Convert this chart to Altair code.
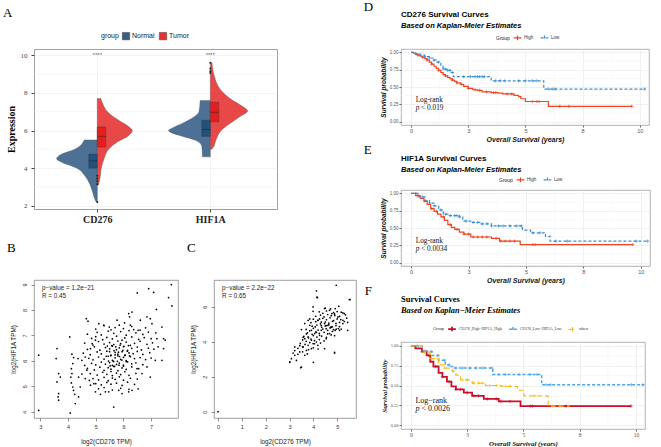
import altair as alt
import pandas as pd

SANS = "Liberation Sans"
SERIF = "Liberation Serif"

# ================= Panel A : split violins =================
gene_names = ["CD276", "HIF1A"]
gene_pos = [1, 2]
groups_A = ["Normal", "Tumor"]
colors_A = ["#1F4E79", "#E41A1C"]

cd276_normal_y = [2.2, 2.4, 2.8, 3.2, 3.6, 4.0, 4.3, 4.5, 4.7, 5.0, 5.5]
cd276_normal_w = [0.01, 0.025, 0.045, 0.07, 0.11, 0.18, 0.31, 0.36, 0.33, 0.2, 0.115]
cd276_tumor_y = [3.1, 3.5, 4.0, 4.5, 5.0, 5.4, 5.7, 6.0, 6.2, 6.5, 7.0, 7.4, 7.7]
cd276_tumor_w = [0.01, 0.025, 0.035, 0.06, 0.1, 0.18, 0.27, 0.31, 0.28, 0.2, 0.09, 0.05, 0.03]
hif1a_normal_y = [4.6, 5.15, 5.45, 5.7, 5.9, 6.0, 6.15, 6.4, 6.7, 7.0, 7.6]
hif1a_normal_w = [0.07, 0.075, 0.12, 0.25, 0.35, 0.37, 0.33, 0.24, 0.15, 0.1, 0.09]
hif1a_tumor_y = [5.0, 5.1, 5.5, 6.03, 6.4, 6.77, 7.04, 7.3, 7.63, 8.17, 8.9, 9.6]
hif1a_tumor_w = [0.01, 0.025, 0.05, 0.1, 0.18, 0.27, 0.33, 0.28, 0.19, 0.09, 0.035, 0.015]

box_gene = ["CD276", "CD276", "HIF1A", "HIF1A"]
box_group = ["Normal", "Tumor", "Normal", "Tumor"]
box_q1 = [4.0, 5.12, 5.69, 6.46]
box_med = [4.39, 5.69, 6.05, 6.97]
box_q3 = [4.75, 6.19, 6.54, 7.5]
BOX_W = 0.075

out_gene = ["CD276", "CD276", "CD276", "CD276", "CD276", "HIF1A", "HIF1A", "HIF1A", "HIF1A"]
out_val = [2.2, 3.15, 3.3, 3.45, 3.6, 9.05, 9.15, 9.3, 9.6]

star_labels = ["****", "****"]
star_y = [10.0, 10.0]
minor_A = [3, 5, 7, 9]

violins = [
    ("CD276", "Normal", cd276_normal_y, cd276_normal_w),
    ("CD276", "Tumor", cd276_tumor_y, cd276_tumor_w),
    ("HIF1A", "Normal", hif1a_normal_y, hif1a_normal_w),
    ("HIF1A", "Tumor", hif1a_tumor_y, hif1a_tumor_w),
]
vrows = []
for gene, grp, ys, ws in violins:
    p = gene_pos[gene_names.index(gene)]
    for y, w in zip(ys, ws):
        lo, hi = (p - w, p) if grp == "Normal" else (p, p + w)
        vrows.append(dict(vid=gene + grp, group=grp, y=y, xlo=lo, xhi=hi))
viol_df = pd.DataFrame(vrows)

brows = []
for g, grp, a, m, b in zip(box_gene, box_group, box_q1, box_med, box_q3):
    p = gene_pos[gene_names.index(g)]
    x1, x2 = (p - BOX_W, p) if grp == "Normal" else (p, p + BOX_W)
    brows.append(dict(group=grp, x1=x1, x2=x2, q1=a, med=m, q3=b))
box_df = pd.DataFrame(brows)
out_df = pd.DataFrame(dict(x=[gene_pos[gene_names.index(g)] for g in out_gene], y=out_val))
star_df = pd.DataFrame(dict(x=gene_pos, y=star_y, t=star_labels))

xsA = alt.Scale(domain=[0.44, 2.59], nice=False, zero=False)
ysA = alt.Scale(domain=[1.83, 10.33], nice=False, zero=False)
fillA = alt.Scale(domain=groups_A, range=colors_A)

axisAx = alt.Axis(values=[1, 2], labelExpr="datum.value == 1 ? 'CD276' : 'HIF1A'", title=None,
                  labelFont=SERIF, labelFontWeight="bold", labelFontSize=10, labelColor="#222",
                  grid=True, gridColor="#ebebeb", gridWidth=0.6, domain=False, tickColor="#444",
                  tickSize=3, labelPadding=2)
axisAy = alt.Axis(values=[2, 4, 6, 8, 10], title="Expression", titleFont=SERIF, titleFontWeight="bold",
                  titleFontSize=10, titleColor="black", labelFont=SERIF, labelFontSize=7,
                  labelColor="#444", grid=True, gridColor="#ebebeb", gridWidth=0.6, domain=False,
                  tickColor="#444", tickSize=3, labelPadding=4, titlePadding=4)

a_minor = alt.Chart(pd.DataFrame(dict(y=minor_A))).mark_rule(color="#f3f3f3", strokeWidth=0.5).encode(
    y=alt.Y("y:Q", scale=ysA, axis=axisAy))
a_viol = alt.Chart(viol_df).mark_area(orient="horizontal", interpolate="monotone", stroke="#555",
                                       strokeWidth=0.4, fillOpacity=0.8).encode(
    y=alt.Y("y:Q", scale=ysA, axis=axisAy),
    x=alt.X("xlo:Q", scale=xsA, axis=axisAx),
    x2="xhi:Q",
    fill=alt.Fill("group:N", scale=fillA, legend=alt.Legend(
        title="group", orient="none", legendX=67, legendY=-17, direction="horizontal",
        titleOrient="left", titleFont=SANS, titleFontSize=7, titleFontWeight="normal",
        titleColor="#222", labelFont=SANS, labelFontSize=7, labelColor="#222",
        symbolType="square", symbolSize=55, symbolOpacity=1, symbolStrokeColor="#333",
        symbolStrokeWidth=0.5, columnPadding=3, titlePadding=3, labelOffset=2)),
    detail="vid:N",
)
a_box = alt.Chart(box_df).mark_rect(stroke="#333", strokeWidth=0.4, opacity=0.9).encode(
    x=alt.X("x1:Q", scale=xsA, axis=axisAx), x2="x2:Q",
    y=alt.Y("q1:Q", scale=ysA, axis=axisAy), y2="q3:Q",
    fill=alt.Fill("group:N", scale=fillA))
a_med = alt.Chart(box_df).mark_rule(color="#222", strokeWidth=0.5).encode(
    x=alt.X("x1:Q", scale=xsA, axis=axisAx), x2="x2:Q", y=alt.Y("med:Q", scale=ysA, axis=axisAy))
a_out = alt.Chart(out_df).mark_circle(size=4, color="#222", opacity=1).encode(
    x=alt.X("x:Q", scale=xsA, axis=axisAx), y=alt.Y("y:Q", scale=ysA, axis=axisAy))
a_star = alt.Chart(star_df).mark_text(font=SANS, fontSize=6, color="#666", baseline="middle").encode(
    x=alt.X("x:Q", scale=xsA, axis=axisAx), y=alt.Y("y:Q", scale=ysA, axis=axisAy), text="t:N")

panelA = alt.layer(a_minor, a_viol, a_box, a_med, a_out, a_star).properties(
    width=243, height=160,
    view=alt.ViewBackground(stroke="#a0a0a0", strokeWidth=1),
    title=alt.Title("A", anchor="start", frame="bounds", font=SERIF, fontSize=13,
                    fontWeight="normal", color="black", offset=12, dx=-3))

# ================= Panels B, C : scatter =================
B_sparse_x = [2.94, 2.94, 4.08, 3.6, 3.57, 3.66, 3.72, 3.6, 3.66, 3.64, 3.66, 4.06, 4.14, 4.2, 4.17,
              4.12, 4.14, 4.1, 4.12, 4.17, 4.2, 4.24, 4.26, 4.38, 4.44, 4.38, 4.36, 4.5, 4.62, 4.66,
              4.72, 4.99, 4.87, 4.81, 4.6, 4.68, 4.5, 4.62, 4.77, 4.81, 4.93, 4.99, 5.17, 5.35, 5.47,
              5.65, 5.83, 5.95, 6.19, 6.31, 6.53]
B_sparse_y = [6.22, 4.05, 3.95, 6.48, 6.09, 5.5, 5.36, 5.17, 4.71, 4.58, 4.45, 6.94, 6.26, 6.13, 5.89,
              5.69, 5.5, 5.36, 5.13, 4.97, 4.84, 4.68, 4.32, 4.58, 4.97, 5.36, 6.09, 6.02, 6.15, 7.66,
              7.56, 6.81, 6.68, 6.48, 5.82, 5.63, 5.48, 5.3, 5.23, 5.04, 5.1, 4.78, 4.68, 4.78, 4.78,
              4.18, 4.84, 4.71, 4.78, 4.84, 4.9]
B_upper_x = [5.11, 5.29, 5.49, 5.77, 5.85, 6.04, 6.19, 6.25, 6.37, 6.53, 6.61, 6.85, 6.97, 7.03, 7.17,
             7.39, 7.21, 7.45, 7.51, 7.45, 7.25, 7.15, 7.39, 6.85, 6.97, 6.49, 6.67]
B_upper_y = [7.46, 7.4, 7.33, 7.6, 7.4, 7.49, 7.86, 7.4, 7.23, 7.2, 7.6, 7.73, 7.66, 7.46, 7.1,
             7.33, 6.87, 6.87, 6.81, 6.48, 6.55, 6.02, 6.02, 5.76, 5.36, 5.69, 5.5]
B_top_x = [7.73, 6.91, 7.09, 6.5, 7.63, 7.75, 7.19, 6.31, 6.22]
B_top_y = [9.0, 8.84, 8.69, 8.67, 8.49, 8.16, 8.02, 7.92, 7.73]
B_core_x = [
    5.0, 5.3, 5.55, 5.7, 6.0, 6.3, 6.6, 6.8,
    4.7, 5.05, 5.2, 5.45, 5.65, 5.9, 6.1, 6.2, 6.45, 6.7, 6.9,
    4.85, 5.0, 5.25, 5.4, 5.6, 5.75, 5.95, 6.05, 6.3, 6.55, 6.75, 7.0,
    4.6, 4.9, 5.1, 5.3, 5.5, 5.65, 5.8, 5.9, 6.1, 6.25, 6.4, 6.6, 6.85, 7.05,
    4.7, 4.95, 5.15, 5.35, 5.5, 5.6, 5.75, 5.85, 6.0, 6.15, 6.3, 6.5, 6.65, 6.9, 7.1,
    4.55, 4.8, 5.05, 5.2, 5.4, 5.55, 5.7, 5.8, 5.95, 6.05, 6.2, 6.35, 6.5, 6.7, 6.95,
    4.75, 4.9, 5.1, 5.3, 5.45, 5.6, 5.7, 5.8, 5.9, 6.0, 6.1, 6.25, 6.4, 6.6, 6.8, 7.0,
    4.85, 5.0, 5.2, 5.35, 5.5, 5.6, 5.65, 5.75, 5.85, 6.0, 6.15, 6.3, 6.45, 6.7,
    4.7, 4.95, 5.15, 5.3, 5.45, 5.55, 5.65, 5.8, 5.95, 6.1, 6.3, 6.55,
    4.8, 5.05, 5.25, 5.4, 5.55, 5.6, 5.75, 5.9, 6.05, 6.2, 6.45,
    4.9, 5.1, 5.3, 5.45, 5.6, 5.7, 5.85, 6.0, 6.25, 6.5,
    5.0, 5.2, 5.4, 5.55, 5.75, 5.95, 6.15, 6.4,
    5.1, 5.3, 5.6, 5.9, 6.2,
    5.42, 5.58, 5.72, 5.88, 6.02, 6.18, 5.5, 5.66, 5.82, 5.98, 6.14, 5.38, 5.54, 5.7, 5.86, 6.06,
    6.22, 5.46, 5.62, 5.78, 5.94, 6.1, 5.52, 5.68, 5.84, 6.0,
]
B_core_y = [
    7.25, 7.38, 7.22, 7.31, 7.27, 7.35, 7.21, 7.3,
    7.05, 7.12, 7.02, 7.17, 7.08, 7.15, 7.01, 7.19, 7.1, 7.04, 7.13,
    6.88, 6.95, 6.83, 6.92, 6.86, 6.97, 6.81, 6.9, 6.94, 6.84, 6.91, 6.87,
    6.7, 6.62, 6.76, 6.66, 6.72, 6.64, 6.78, 6.68, 6.74, 6.61, 6.69, 6.77, 6.65, 6.71,
    6.45, 6.55, 6.42, 6.52, 6.47, 6.58, 6.44, 6.51, 6.56, 6.41, 6.49, 6.54, 6.43, 6.5, 6.46,
    6.3, 6.24, 6.35, 6.27, 6.38, 6.22, 6.33, 6.26, 6.36, 6.21, 6.31, 6.28, 6.37, 6.25, 6.32,
    6.1, 6.04, 6.15, 6.07, 6.18, 6.02, 6.12, 6.19, 6.06, 6.14, 6.01, 6.16, 6.09, 6.13, 6.05, 6.11,
    5.9, 5.84, 5.95, 5.87, 5.93, 5.82, 5.97, 5.86, 5.91, 5.83, 5.96, 5.88, 5.92, 5.85,
    5.7, 5.64, 5.75, 5.62, 5.73, 5.67, 5.78, 5.61, 5.72, 5.66, 5.76, 5.69,
    5.5, 5.44, 5.55, 5.47, 5.58, 5.42, 5.52, 5.46, 5.57, 5.43, 5.51,
    5.3, 5.25, 5.35, 5.22, 5.32, 5.27, 5.37, 5.24, 5.31, 5.28,
    5.1, 5.05, 5.15, 5.08, 5.12, 5.03, 5.16, 5.07,
    4.9, 4.95, 4.85, 4.92, 4.88,
    6.58, 6.6, 6.55, 6.62, 6.57, 6.6, 6.36, 6.4, 6.34, 6.41, 6.38, 6.18, 6.2, 6.23, 6.17, 6.22,
    6.19, 5.99, 6.0, 5.98, 6.03, 5.97, 5.8, 5.78, 5.83, 5.79,
]
B_annot = ["p\u2212value = 1.2e\u221221", "R = 0.45"]
B_annot_x = [3.06, 3.06]
B_annot_y = [8.87, 8.56]

C_sparse_x = [0.0, 4.96, 4.13, 4.17, 5.51, 5.07, 3.99, 4.47, 4.68, 3.99, 4.78, 5.24, 5.03, 5.24, 3.78,
              4.19, 4.33, 4.47, 4.61, 4.75, 4.54, 4.92, 5.1, 5.44, 5.24, 3.5, 3.92, 4.06, 4.26, 3.78,
              3.64, 3.92, 4.13, 3.99, 4.19, 3.78, 3.57, 3.92, 3.71, 3.22, 3.43, 3.64, 3.22, 3.08, 3.29,
              3.01, 3.47, 4.89, 4.47, 4.54, 4.68, 4.33, 4.08, 3.85, 3.64, 4.92]
C_sparse_y = [0.0, 7.22, 6.9, 6.51, 6.4, 6.02, 5.98, 5.89, 5.79, 5.73, 5.6, 5.64, 5.41, 5.22, 5.22,
              5.22, 5.12, 5.03, 4.93, 4.84, 4.74, 4.65, 4.65, 4.65, 5.03, 4.69, 4.65, 4.46, 4.36, 4.27,
              4.17, 4.08, 3.98, 3.89, 3.79, 3.79, 3.7, 3.6, 3.5, 3.7, 3.41, 3.22, 3.22, 3.03, 2.93,
              2.84, 2.51, 3.35, 3.6, 4.17, 4.46, 4.65, 4.84, 4.93, 5.03, 5.89]
C_extra_x = [4.15, 5.54, 4.5, 4.72, 5.17, 4.89, 3.85, 4.26, 5.44, 4.33, 4.54, 4.75, 4.96, 5.17, 4.89,
             4.13, 3.71, 3.57, 3.43, 3.22, 3.01, 3.5, 4.0, 4.89]
C_extra_y = [6.54, 6.4, 5.91, 5.87, 5.68, 5.58, 5.3, 5.3, 5.1, 4.92, 4.92, 4.82, 4.72, 4.72, 4.34,
             4.53, 4.44, 4.25, 3.77, 3.49, 2.82, 2.54, 2.82, 3.39]
C_core_x = [
    4.25, 4.4, 4.55, 4.85, 5.0, 5.3,
    4.1, 4.3, 4.45, 4.6, 4.75, 4.9, 5.1, 5.35,
    4.0, 4.2, 4.4, 4.55, 4.7, 4.85, 5.0, 5.15, 5.4,
    3.9, 4.1, 4.3, 4.5, 4.65, 4.8, 4.95, 5.1, 5.3,
    3.95, 4.15, 4.35, 4.5, 4.65, 4.8, 4.95, 5.1,
    3.7, 3.85, 4.0, 4.2, 4.4, 4.6, 4.7, 4.85, 5.05,
    3.75, 3.95, 4.1, 4.25, 4.45, 4.6, 4.8,
    3.6, 3.8, 4.0, 4.15, 4.35, 4.55, 4.75,
    3.55, 3.7, 3.9, 4.05, 4.25, 4.45,
    3.45, 3.65, 3.85, 4.05, 4.3,
    3.35, 3.55, 3.8, 4.0, 4.2,
    3.15, 3.35, 3.55, 3.75,
]
C_core_y = [
    5.7, 5.62, 5.75, 5.66, 5.72, 5.6,
    5.45, 5.52, 5.42, 5.55, 5.48, 5.5, 5.44, 5.53,
    5.28, 5.22, 5.33, 5.25, 5.36, 5.2, 5.3, 5.26, 5.34,
    5.08, 5.14, 5.02, 5.12, 5.06, 5.16, 5.04, 5.1, 5.15,
    4.88, 4.95, 4.82, 4.9, 4.97, 4.85, 4.92, 4.86,
    4.7, 4.62, 4.76, 4.66, 4.72, 4.64, 4.78, 4.68, 4.75,
    4.5, 4.42, 4.56, 4.47, 4.53, 4.44, 4.58,
    4.3, 4.22, 4.35, 4.26, 4.32, 4.24, 4.38,
    4.1, 4.02, 4.15, 4.06, 4.12, 4.04,
    3.9, 3.84, 3.95, 3.88, 3.92,
    3.62, 3.7, 3.55, 3.65, 3.58,
    3.35, 3.28, 3.42, 3.3,
]
C_annot = ["p\u2212value = 2.2e\u221222", "R = 0.65"]
C_annot_x = [0.17, 0.17]
C_annot_y = [7.07, 6.61]

B_x = B_sparse_x + B_upper_x + B_top_x + B_core_x
B_y = B_sparse_y + B_upper_y + B_top_y + B_core_y
C_x = C_sparse_x + C_extra_x + C_core_x
C_y = C_sparse_y + C_extra_y + C_core_y
assert len(B_x) == len(B_y) and len(C_x) == len(C_y)


def r_axis(values, title, vertical):
    return alt.Axis(values=values, title=title, grid=False, domain=False, tickSize=3,
                    tickColor="#444", tickWidth=0.6, labelFont=SANS, labelFontSize=5.5,
                    labelColor="#333", labelPadding=4 if vertical else 3,
                    labelAngle=270 if vertical else 0,
                    titleFont=SANS, titleFontSize=6.3, titleFontWeight="normal",
                    titleColor="#222", titlePadding=6 if vertical else 9)


def scatter_panel(letter, xs, ys, xdom, ydom, xvals, yvals, ann, ann_x, ann_y, w, h):
    sx = alt.Scale(domain=xdom, nice=False, zero=False)
    sy = alt.Scale(domain=ydom, nice=False, zero=False)
    ax = r_axis(xvals, "log2(CD276 TPM)", False)
    ay = r_axis(yvals, "log2(HIF1A TPM)", True)
    pts = alt.Chart(pd.DataFrame(dict(x=xs, y=ys))).mark_circle(size=3, color="black", opacity=1).encode(
        x=alt.X("x:Q", scale=sx, axis=ax), y=alt.Y("y:Q", scale=sy, axis=ay))
    txt = alt.Chart(pd.DataFrame(dict(x=ann_x, y=ann_y, t=ann))).mark_text(
        align="left", baseline="middle", font=SANS, fontSize=6.3, color="#222").encode(
        x=alt.X("x:Q", scale=sx, axis=ax), y=alt.Y("y:Q", scale=sy, axis=ay), text="t:N")
    return alt.layer(pts, txt).properties(
        width=w, height=h, view=alt.ViewBackground(stroke="#888", strokeWidth=0.8),
        title=alt.Title(letter, anchor="start", frame="bounds", font=SERIF, fontSize=13,
                        fontWeight="normal", color="black", offset=25, dx=-3))


panelB = scatter_panel("B", B_x, B_y, [2.77, 7.97], [3.75, 9.18], [3, 4, 5, 6, 7], [4, 5, 6, 7, 8, 9],
                       B_annot, B_annot_x, B_annot_y, 144, 138)
panelC = scatter_panel("C", C_x, C_y, [-0.17, 5.79], [-0.36, 7.52], [0, 1, 2, 3, 4, 5], [0, 2, 4, 6],
                       C_annot, C_annot_x, C_annot_y, 142, 138)

# ================= Panels D, E, F : Kaplan-Meier =================
D_groups = ["High", "Low"]
D_high_t = [0, 0.1, 0.2, 0.3, 0.4, 0.5, 0.6, 0.7, 0.8, 0.9, 1.0, 1.1, 1.2, 1.3, 1.4, 1.5, 1.6, 1.7, 1.8,
            1.9, 2.0, 2.15, 2.3, 2.5, 2.7, 2.9, 3.1, 3.5, 3.8, 4.0, 4.5, 4.7, 4.8, 5.0, 6.0, 9.65]
D_high_s = [1.0, 0.99, 0.975, 0.96, 0.945, 0.93, 0.91, 0.89, 0.86, 0.83, 0.80, 0.77, 0.74, 0.71, 0.68,
            0.66, 0.64, 0.62, 0.60, 0.58, 0.56, 0.54, 0.51, 0.48, 0.46, 0.45, 0.43, 0.42, 0.41, 0.40,
            0.38, 0.36, 0.33, 0.29, 0.22, 0.22]
D_low_t = [0, 0.2, 0.4, 0.6, 0.8, 1.0, 1.1, 1.3, 1.4, 1.6, 1.75, 1.85, 3.5, 5.8, 10.25]
D_low_s = [1.0, 0.98, 0.96, 0.94, 0.92, 0.89, 0.86, 0.80, 0.76, 0.74, 0.71, 0.65, 0.59, 0.47, 0.47]
D_high_cens = [0.3, 0.5, 0.7, 0.9, 1.2, 1.5, 1.8, 2.0, 2.2, 2.5, 2.8, 3.0, 3.3, 3.6, 3.7, 4.2, 4.4,
               5.3, 5.5, 5.6, 6.5, 6.9, 9.65]
D_low_cens = [0.2, 0.4, 0.6, 0.8, 1.0, 1.2, 1.4, 1.5, 1.6, 1.7, 1.8, 2.3, 2.6, 2.8, 2.9, 3.0, 3.1,
              3.2, 3.7, 3.9, 4.1, 4.7, 5.0, 5.3, 5.5, 6.0, 6.2, 6.3, 10.2]

E_groups = ["High", "Low"]
E_high_t = [0, 0.2, 0.4, 0.56, 0.7, 0.85, 1.0, 1.15, 1.3, 1.45, 1.6, 1.75, 1.9, 2.1, 2.3, 2.6, 3.5,
            3.85, 4.75, 9.65]
E_high_s = [1.0, 0.97, 0.93, 0.89, 0.84, 0.78, 0.74, 0.70, 0.66, 0.61, 0.55, 0.51, 0.48, 0.44, 0.41,
            0.37, 0.35, 0.31, 0.26, 0.26]
E_low_t = [0, 0.3, 0.6, 0.8, 1.0, 1.2, 1.4, 1.6, 2.1, 2.25, 2.6, 3.0, 3.5, 4.85, 5.2, 5.85, 6.05, 10.3]
E_low_s = [1.0, 0.95, 0.90, 0.86, 0.82, 0.76, 0.70, 0.68, 0.66, 0.60, 0.58, 0.56, 0.53, 0.47, 0.43,
           0.38, 0.31, 0.31]
E_high_cens = [0.3, 0.6, 0.9, 1.1, 1.4, 1.7, 2.0, 2.3, 2.5, 2.7, 2.9, 3.1, 3.3, 3.7, 3.9, 4.1, 4.3,
               4.5, 5.3, 5.4, 9.65]
E_low_cens = [0.2, 0.5, 0.8, 1.0, 1.3, 1.5, 1.7, 1.9, 2.0, 2.1, 2.4, 2.7, 2.9, 3.1, 3.3, 3.5, 3.8,
              4.0, 4.3, 4.6, 4.8, 5.3, 5.6, 6.3, 6.8, 9.8, 10.3]

F_groups = ["CD276_High\u2212HIF1A_High", "CD276_Low\u2212HIF1A_Low", "others"]
F_hh_t = [0, 0.2, 0.49, 0.7, 0.86, 1.0, 1.23, 1.4, 1.6, 1.8, 2.0, 2.35, 2.72, 3.24, 3.9, 4.87, 9.78]
F_hh_s = [1.0, 0.97, 0.93, 0.88, 0.80, 0.74, 0.66, 0.61, 0.55, 0.49, 0.45, 0.41, 0.37, 0.33, 0.30,
          0.24, 0.24]
F_ll_t = [0, 0.49, 0.94, 1.23, 1.53, 1.75, 1.85, 3.64, 5.81, 10.37]
F_ll_s = [1.0, 0.93, 0.88, 0.82, 0.76, 0.74, 0.72, 0.64, 0.51, 0.51]
F_ot_t = [0, 0.49, 0.86, 1.23, 1.5, 1.83, 2.0, 2.2, 2.72, 3.31, 4.0, 4.73, 5.02, 6.1, 7.0]
F_ot_s = [1.0, 0.92, 0.84, 0.76, 0.72, 0.68, 0.63, 0.57, 0.53, 0.50, 0.49, 0.44, 0.37, 0.24, 0.24]
F_hh_cens = [0.5, 0.8, 1.1, 1.4, 1.7, 2.0, 2.2, 2.5, 2.8, 3.0, 3.4, 3.8, 4.0, 4.4, 5.3, 5.4, 6.9, 9.78]
F_ll_cens = [0.3, 0.6, 0.9, 1.2, 1.5, 1.7, 2.0, 2.3, 2.6, 2.9, 3.2, 3.6, 3.9, 4.2, 4.8, 5.3, 5.6, 6.0,
             6.2, 9.8, 10.3]
F_ot_cens = [0.3, 0.6, 0.9, 1.2, 1.5, 1.9, 2.3, 2.5, 2.8, 3.0, 3.2, 3.5, 3.8, 4.2, 4.4, 5.5, 6.3, 6.6, 7.0]

KM_X_TICKS = [0, 2.5, 5, 7.5, 10]
KM_Y_TICKS = [0, 0.25, 0.5, 0.75, 1.0]
KM_X_MINOR = [1.25, 3.75, 6.25, 8.75]
KM_Y_MINOR = [0.125, 0.375, 0.625, 0.875]
PLUS = "M-1,0L1,0M0,-1L0,1"


def surv_at(t, ts, ss):
    v = ss[0]
    for a, b in zip(ts, ss):
        if a <= t:
            v = b
    return v


def km_panel(title, subtitle, groups, colors, dashes, widths, curves, censors, logrank, pval, font,
             w, h, legX, legY, leg_size, title_size, sub_size, lr_size, title_off):
    lrows, crows = [], []
    for g, (ts, ss), cs in zip(groups, curves, censors):
        for t, s in zip(ts, ss):
            lrows.append(dict(grp=g, t=t, s=s))
        for c in cs:
            crows.append(dict(grp=g, t=c, s=surv_at(c, ts, ss)))
    sx = alt.Scale(domain=[-0.44, 10.4], nice=False, zero=False)
    sy = alt.Scale(domain=[-0.05, 1.05], nice=False, zero=False)
    col = alt.Scale(domain=groups, range=colors)
    leg = alt.Legend(title="Group", orient="none", legendX=legX, legendY=legY, direction="horizontal",
                     titleOrient="left", titleFont=font, titleFontSize=leg_size + 0.5,
                     titleFontWeight="normal", titleColor="#222", labelFont=font,
                     labelFontSize=leg_size, labelColor="#333",
                     symbolType="M-1,0L1,0M0,-0.6L0,0.6", symbolSize=60, symbolStrokeWidth=1.2,
                     columnPadding=4, titlePadding=3, labelOffset=2)
    xax = alt.Axis(values=KM_X_TICKS, title="Overall Survival (years)", titleFont=font, titleFontSize=7,
                   titleFontWeight="bold", titleFontStyle="italic", titleColor="#111",
                   labelFont=font, labelFontSize=5.5, labelColor="#555", tickColor="#666",
                   tickSize=2, domain=False, grid=True, gridColor="#e6e6e6", gridWidth=0.6,
                   labelPadding=1, titlePadding=2)
    yax = alt.Axis(values=KM_Y_TICKS, format=".2f", title="Survival probability", titleFont=font,
                   titleFontSize=6.5, titleFontWeight="bold", titleFontStyle="italic",
                   titleColor="#111", labelFont=font, labelFontSize=4.5, labelColor="#555",
                   tickColor="#666", tickSize=2, domain=False, grid=True, gridColor="#e6e6e6",
                   gridWidth=0.6, labelPadding=1, titlePadding=3)
    mx = alt.Chart(pd.DataFrame(dict(v=KM_X_MINOR))).mark_rule(color="#f3f3f3", strokeWidth=0.5).encode(
        x=alt.X("v:Q", scale=sx, axis=xax))
    my = alt.Chart(pd.DataFrame(dict(v=KM_Y_MINOR))).mark_rule(color="#f3f3f3", strokeWidth=0.5).encode(
        y=alt.Y("v:Q", scale=sy, axis=yax))
    lines = alt.Chart(pd.DataFrame(lrows)).mark_line(interpolate="step-after").encode(
        x=alt.X("t:Q", scale=sx, axis=xax),
        y=alt.Y("s:Q", scale=sy, axis=yax),
        color=alt.Color("grp:N", scale=col, legend=leg),
        strokeDash=alt.StrokeDash("grp:N", scale=alt.Scale(domain=groups, range=dashes), legend=leg),
        strokeWidth=alt.StrokeWidth("grp:N", scale=alt.Scale(domain=groups, range=widths), legend=None),
        order="t:Q")
    cens = alt.Chart(pd.DataFrame(crows)).mark_point(shape=PLUS, filled=False, size=10, strokeWidth=0.7,
                                                      opacity=1).encode(
        x=alt.X("t:Q", scale=sx, axis=xax), y=alt.Y("s:Q", scale=sy, axis=yax),
        color=alt.Color("grp:N", scale=col, legend=leg))
    lr1 = alt.Chart(pd.DataFrame(dict(x=[0.2], y=[0.31], t=[logrank]))).mark_text(
        align="left", baseline="middle", font=SERIF, fontSize=lr_size, color="#111").encode(
        x=alt.X("x:Q", scale=sx, axis=xax), y=alt.Y("y:Q", scale=sy, axis=yax), text="t:N")
    lr2 = alt.Chart(pd.DataFrame(dict(x=[0.2], y=[0.2], t=["p"]))).mark_text(
        align="left", baseline="middle", font=SERIF, fontSize=lr_size, fontStyle="italic",
        color="#111").encode(
        x=alt.X("x:Q", scale=sx, axis=xax), y=alt.Y("y:Q", scale=sy, axis=yax), text="t:N")
    lr3 = alt.Chart(pd.DataFrame(dict(x=[0.2], y=[0.2], t=["< " + pval]))).mark_text(
        align="left", baseline="middle", font=SERIF, fontSize=lr_size, dx=lr_size * 0.75,
        color="#111").encode(
        x=alt.X("x:Q", scale=sx, axis=xax), y=alt.Y("y:Q", scale=sy, axis=yax), text="t:N")
    return alt.layer(mx, my, lines, cens, lr1, lr2, lr3).properties(
        width=w, height=h, view=alt.ViewBackground(stroke="#a0a0a0", strokeWidth=0.8),
        title=alt.Title(title, subtitle=subtitle, anchor="start", frame="group", font=font,
                        fontSize=title_size, fontWeight="bold", color="black",
                        subtitleFont=font, subtitleFontSize=sub_size, subtitleFontStyle="italic",
                        subtitleFontWeight="bold", subtitleColor="black", subtitlePadding=3,
                        offset=title_off))


def lettered(chart, letter, off):
    return alt.vconcat(chart, spacing=0, title=alt.Title(
        letter, anchor="start", font=SERIF, fontSize=13, fontWeight="normal", color="black",
        dx=-16, offset=off))


panelD = km_panel("CD276 Survival Curves", "Based on Kaplan-Meier Estimates", D_groups,
                  ["#EE4422", "#3A8FD3"], [[1, 0], [3, 2]], [1.2, 1.2],
                  [(D_high_t, D_high_s), (D_low_t, D_low_s)], [D_high_cens, D_low_cens],
                  "Log-rank", "0.019", SANS, 248, 76, 95, -16, 4.5, 8, 7.5, 7.3, 19)
panelE = km_panel("HIF1A Survival Curves", "Based on Kaplan-Meier Estimates", E_groups,
                  ["#EE4422", "#3A8FD3"], [[1, 0], [3, 2]], [1.2, 1.2],
                  [(E_high_t, E_high_s), (E_low_t, E_low_s)], [E_high_cens, E_low_cens],
                  "Log-rank", "0.0034", SANS, 249, 76, 98, -15, 4.5, 8, 7.5, 7.3, 16)
panelF = km_panel("Survival Curves", "Based on Kaplan\u2212Meier Estimates", F_groups,
                  ["#C8102E", "#4DA6E8", "#F2BE1A"], [[1, 0], [3, 2], [5, 3]], [1.8, 1.2, 1.2],
                  [(F_hh_t, F_hh_s), (F_ll_t, F_ll_s), (F_ot_t, F_ot_s)],
                  [F_hh_cens, F_ll_cens, F_ot_cens], "Log\u2212rank", "0.0026",
                  SERIF, 244, 87, 32, -18, 3.8, 8.5, 8.3, 8, 27)

res = dict(x="independent", y="independent", color="independent", fill="independent",
           strokeDash="independent", strokeWidth="independent")

left = alt.vconcat(
    panelA,
    alt.hconcat(panelB, panelC, spacing=7).resolve_scale(**res),
    spacing=16,
).resolve_scale(**res)
right = alt.vconcat(
    lettered(panelD, "D", -3), lettered(panelE, "E", -2), lettered(panelF, "F", -3), spacing=0
).resolve_scale(**res)

chart = alt.hconcat(left, right, spacing=6).resolve_scale(**res).properties(
    padding={"left": 2, "top": 0, "right": 4, "bottom": 0},
    background="white",
)

chart.save("out.html", embed_options={"renderer": "svg", "actions": False})
